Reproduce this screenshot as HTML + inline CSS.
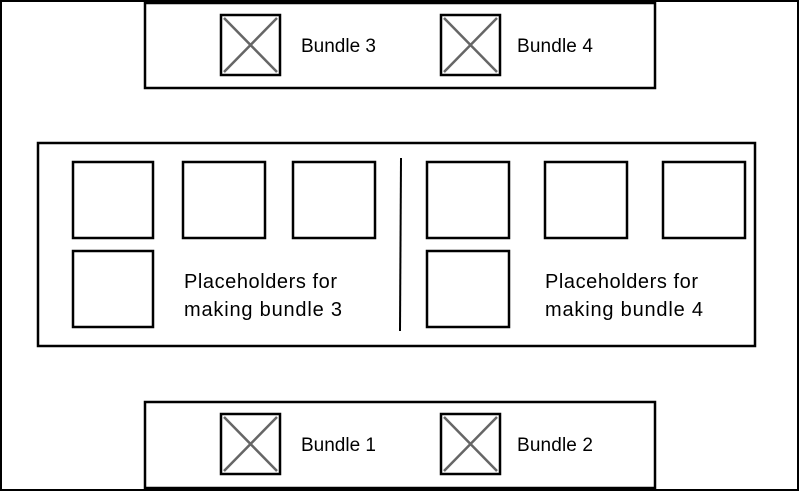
<!DOCTYPE html>
<html><head><style>html,body{margin:0;padding:0;background:#fff}svg{display:block}</style></head><body>
<svg width="800" height="491" viewBox="0 0 800 491" xmlns="http://www.w3.org/2000/svg" font-family="'Liberation Sans',sans-serif" font-size="19" fill="#000">
<rect x="1" y="1" width="797" height="489" fill="#fff" stroke="#000" stroke-width="2"/>
<g fill="#fff" stroke="#000" stroke-width="2.5">
<rect x="145" y="3" width="510" height="85"/>
<rect x="145" y="402" width="510" height="86"/>
<rect x="38" y="143" width="717" height="203"/>
<rect x="221" y="15" width="59" height="60"/>
<rect x="441" y="15" width="59" height="60"/>
<rect x="221" y="414" width="59" height="60"/>
<rect x="441" y="414" width="59" height="60"/>
<rect x="73" y="162" width="80" height="76"/>
<rect x="183" y="162" width="82" height="76"/>
<rect x="293" y="162" width="82" height="76"/>
<rect x="427" y="162" width="82" height="76"/>
<rect x="545" y="162" width="82" height="76"/>
<rect x="663" y="162" width="82" height="76"/>
<rect x="73" y="251" width="80" height="76"/>
<rect x="427" y="251" width="82" height="76"/>
</g>
<line x1="401" y1="158" x2="400" y2="331" stroke="#000" stroke-width="2"/>
<g stroke="#666" stroke-width="2.5">
<path d="M224 18L277 72M277 18L224 72"/>
<path d="M444 18L497 72M497 18L444 72"/>
<path d="M224 417L277 471M277 417L224 471"/>
<path d="M444 417L497 471M497 417L444 471"/>
</g>
<text x="301" y="52" textLength="75">Bundle 3</text>
<text x="517" y="52" textLength="76">Bundle 4</text>
<text x="301" y="451" textLength="75">Bundle 1</text>
<text x="517" y="451" textLength="76">Bundle 2</text>
<g font-size="20">
<text x="184" y="288" textLength="153">Placeholders for</text>
<text x="184" y="316" textLength="158">making bundle 3</text>
<text x="545" y="288" textLength="153">Placeholders for</text>
<text x="545" y="316" textLength="158">making bundle 4</text>
</g>
</svg>
</body></html>
